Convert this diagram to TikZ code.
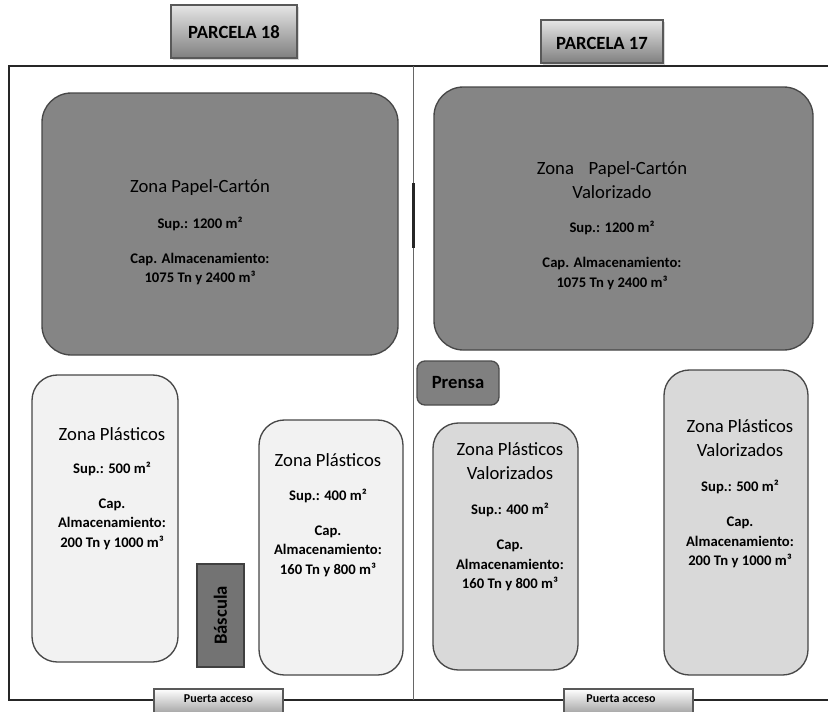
\documentclass[tikz,border=0pt]{standalone}
\usepackage{fontspec}
\setmainfont{Carlito}
\usetikzlibrary{shadows}

\begin{document}
\begin{tikzpicture}[x=0.75pt, y=-0.75pt,
  bigzone/.style={draw=black!72, line width=1pt, fill=black!48, rounded corners=22pt},
  plzone/.style={draw=black!72, line width=1pt, fill=black!5, rounded corners=19pt},
  pvzone/.style={draw=black!72, line width=1pt, fill=black!15, rounded corners=19pt},
  parcelabox/.style={draw=black!65, line width=0.9pt, top color=black!10, bottom color=black!50,
    drop shadow={opacity=0.3, shadow xshift=1.2pt, shadow yshift=-1.2pt}},
  puertabox/.style={draw=black!65, line width=0.8pt, top color=white, bottom color=black!35},
  ztitle/.style={align=center, font=\fontsize{14}{18}\selectfont},
  zdetail/.style={align=center, font=\bfseries\fontsize{11}{14.6}\selectfont},
  boxlabel/.style={font=\bfseries\fontsize{14}{17}\selectfont}]
  \useasboundingbox (0,0) rectangle (828,711);

  % parcel boundaries
  \draw[line width=1.2pt, black!85] (828,66) -- (9,66) -- (9,700) -- (828,700);
  \draw[line width=0.6pt, black!60] (413.5,66) -- (413.5,700);
  \draw[line width=1.6pt, black!85] (413.5,183) -- (413.5,248);

  % parcel headers
  \draw[parcelabox] (171,5) rectangle (297,58);
  \node[boxlabel] (parcela18) at (234,32) {PARCELA 18};
  \draw[parcelabox] (541,20) rectangle (663,63);
  \node[boxlabel] (parcela17) at (602,43) {PARCELA 17};

  % paper and cardboard zones
  \draw[bigzone] (42,93) rectangle (398,355);
  \node[ztitle] (pctitle18) at (200,188) {Zona Papel-Cartón};
  \node[zdetail] (pcdata18) at (200,251) {Sup.: 1200 m²\\[11.5pt]Cap. Almacenamiento:\\1075 Tn y 2400 m³};

  \draw[bigzone] (434,87) rectangle (813,350);
  \node[ztitle] (pctitle17) at (612,180) {Zona\hspace{11pt}Papel-Cartón\\Valorizado};
  \node[zdetail] (pcdata17) at (612,255) {Sup.: 1200 m²\\[12pt]Cap. Almacenamiento:\\1075 Tn y 2400 m³};

  % press
  \draw[draw=black!70, line width=1pt, fill=black!50, rounded corners=6pt] (417,361) rectangle (499,405);
  \node[boxlabel] (prensa) at (458,383) {Prensa};

  % plastics, parcel 18
  \draw[plzone] (32,375) rectangle (178,662);
  \node[ztitle] (pltitle1) at (112,434) {Zona Plásticos};
  \node[zdetail] (pldata1) at (112,506) {Sup.: 500 m²\\[11.5pt]Cap.\\Almacenamiento:\\200 Tn y 1000 m³};

  \draw[plzone] (259,420) rectangle (403,675);
  \node[ztitle] (pltitle2) at (328,460) {Zona Plásticos};
  \node[zdetail] (pldata2) at (328,533) {Sup.: 400 m²\\[11.5pt]Cap.\\Almacenamiento:\\160 Tn y 800 m³};

  % scale
  \draw[draw=black!75, line width=1pt, fill=black!55] (197,564) rectangle (244,667);
  \node[boxlabel, rotate=90] (bascula) at (220.5,615.5) {Báscula};

  % valorised plastics, parcel 17
  \draw[pvzone] (433,423) rectangle (578,670);
  \node[ztitle] (pvtitle1) at (510,461) {Zona Plásticos\\Valorizados};
  \node[zdetail] (pvdata1) at (510,547) {Sup.: 400 m²\\[12pt]Cap.\\Almacenamiento:\\160 Tn y 800 m³};

  \draw[pvzone] (664,370) rectangle (808,675);
  \node[ztitle] (pvtitle2) at (740,438) {Zona Plásticos\\Valorizados};
  \node[zdetail] (pvdata2) at (740,524) {Sup.: 500 m²\\[12pt]Cap.\\Almacenamiento:\\200 Tn y 1000 m³};

  % gates
  \draw[puertabox] (154,689) rectangle (283,713);
  \node[font=\bfseries\fontsize{9}{11}\selectfont] (puerta18) at (218.5,699) {Puerta acceso};
  \draw[puertabox] (564,689) rectangle (693,713);
  \node[font=\bfseries\fontsize{9}{11}\selectfont] (puerta17) at (621,699) {Puerta acceso};
\end{tikzpicture}
\end{document}
